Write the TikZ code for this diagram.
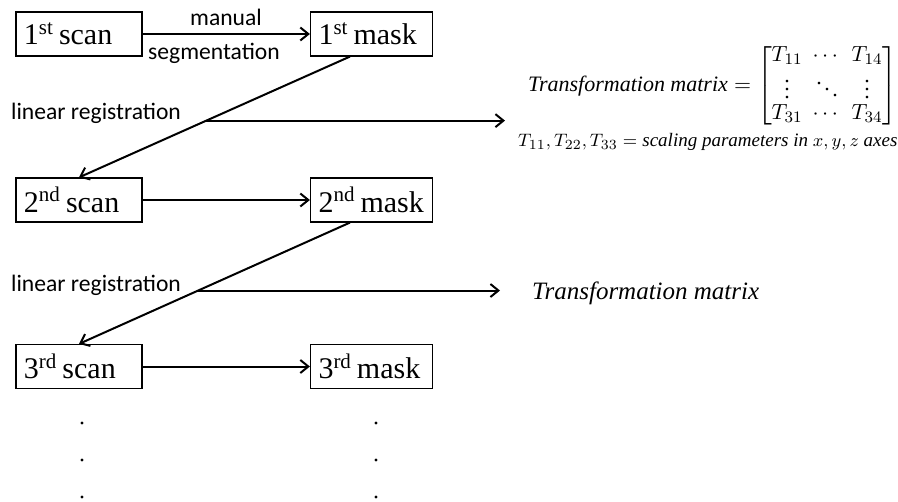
\documentclass[tikz,border=0pt]{standalone}
\usepackage{amsmath}
\usepackage{fontspec}
\setmainfont{Liberation Serif}
\newfontfamily\labelfont{Carlito}
\usetikzlibrary{arrows.meta, positioning, calc}

\begin{document}
\begin{tikzpicture}[x=0.5pt, y=-0.5pt,
    box/.style={draw, line width=0.6pt, minimum height=22pt, inner xsep=4pt, align=left, font=\fontsize{15}{18}\selectfont},
    lbl/.style={font=\labelfont\fontsize{11.8}{14}\selectfont},
    link/.style={line width=1pt, -{Straight Barb[length=4pt, width=6.5pt]}}]
    \useasboundingbox (0,0) rectangle (898,502);

    % Scans and masks
    \node[box, text width=55pt] (scanA) at (79,34) {1\textsuperscript{st}\hspace{2.5pt}scan};
    \node[box, text width=53pt] (maskA) at (371.5,34) {1\textsuperscript{st}\hspace{2.5pt}mask};
    \node[box, text width=55pt] (scanB) at (79,200) {2\textsuperscript{nd}\hspace{2.5pt}scan};
    \node[box, text width=53pt] (maskB) at (371.5,200) {2\textsuperscript{nd}\hspace{2.5pt}mask};
    \node[box, text width=55pt] (scanC) at (79,366.5) {3\textsuperscript{rd}\hspace{2.5pt}scan};
    \node[box, text width=53pt] (maskC) at (371.5,366.5) {3\textsuperscript{rd}\hspace{2.5pt}mask};

    % Segmentation
    \draw[link] (scanA.east) -- (maskA.west);
    \node[lbl] (manual) at (226,17) {manual};
    \node[lbl] (segm) at (214,53) {segmentation};
    \draw[link] (scanB.east) -- (maskB.west);
    \draw[link] (scanC.east) -- (maskC.west);

    % First registration
    \draw[link] ([xshift=20pt]maskA.south west) -- (scanB.north);
    \coordinate (regA) at ($([xshift=20pt]maskA.south west)!0.53!(scanB.north)$);
    \coordinate (outA) at (505,120);
    \draw[link] (regA) -- (regA -| outA);
    \node[lbl] (regLblA) at (96,113) {linear registration};

    % Second registration
    \draw[link] ([xshift=20pt]maskB.south west) -- (scanC.north);
    \coordinate (regB) at ($([xshift=20pt]maskB.south west)!0.56!(scanC.north)$);
    \coordinate (outB) at (500,290);
    \draw[link] (regB) -- (regB -| outB);
    \node[lbl] (regLblB) at (96,285) {linear registration};

    % Transformation matrices
    \node[anchor=west, font=\fontsize{11}{13}\selectfont] (tmA) at (521,86)
        {$\textit{Transformation matrix} = {\renewcommand{\arraystretch}{0.8}\setlength{\arraycolsep}{2.5pt}
        \begin{bmatrix} T_{11} & \cdots & T_{14}\\ \vdots & \ddots & \vdots\\ T_{31} & \cdots & T_{34}\end{bmatrix}}$};
    \node[anchor=west, font=\fontsize{9.5}{12}\selectfont] (scaling) at (511,142)
        {$T_{11},T_{22},T_{33} = \textit{scaling parameters in}\ x, y, z\ \textit{axes}$};
    \node[anchor=west, font=\fontsize{12.5}{15}\selectfont] (tmB) at (525,293)
        {\textit{Transformation matrix}};

    % Dots
    \foreach \y in {423,460,497} {
        \fill (82,\y) circle (0.8pt);
        \fill (376,\y) circle (0.8pt);
    }
\end{tikzpicture}
\end{document}
